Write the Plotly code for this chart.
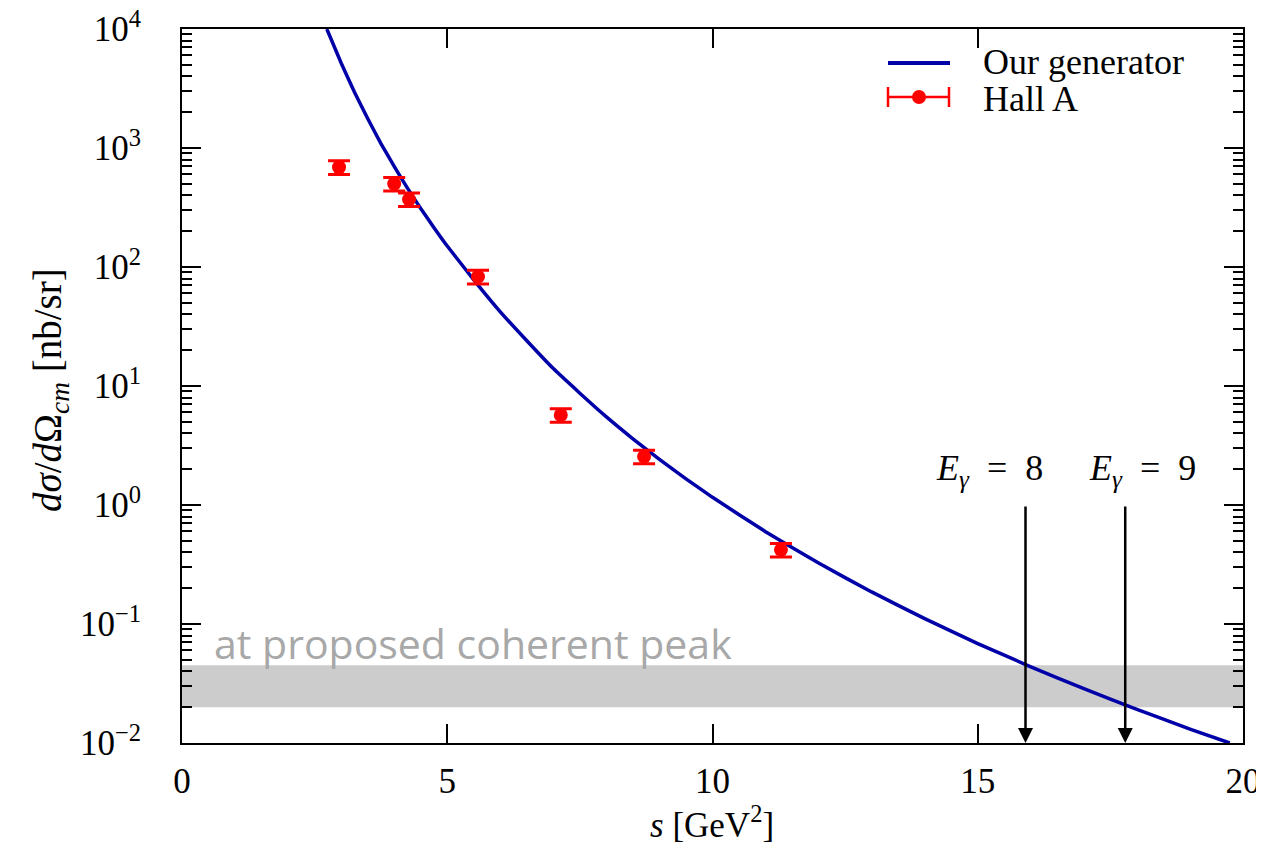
import math
import plotly.graph_objects as go

# ---------------- data ----------------
curve_s = [2.73, 3.0, 3.25, 3.5, 3.75, 4.0, 4.25, 4.5, 4.75, 5.0, 5.25, 5.5, 6.0, 6.5, 7.0, 7.5, 8.0,
           8.5, 9.0, 9.5, 10.0, 11.0, 12.0, 13.0, 14.0, 15.0, 16.0, 17.0, 18.0, 19.0, 19.75]
curve_xs = [10000, 5180, 2960, 1770, 1090, 700, 460, 310, 214, 150, 108, 78, 42, 24, 14.0, 8.7, 5.5,
            3.6, 2.42, 1.66, 1.16, 0.597, 0.325, 0.186, 0.111, 0.0685, 0.0437, 0.0286, 0.0192, 0.0131, 0.0100]

halla_s = [2.96, 4.0, 4.28, 5.58, 7.14, 8.71, 11.29]
halla_xs = [690, 500, 370, 83, 5.7, 2.55, 0.42]
halla_err = [90, 65, 48, 11, 0.75, 0.33, 0.055]

band_low, band_high = 0.02, 0.045
arrow_s = [15.9, 17.78]
arrow_labels = ["<i>E</i><sub><i>γ</i></sub>\u00a0\u00a0=\u00a0\u00a08",
                "<i>E</i><sub><i>γ</i></sub>\u00a0\u00a0=\u00a0\u00a09"]
arrow_label_s = [15.23, 18.10]

y_tickvals = [1e-2, 1e-1, 1, 10, 100, 1000, 10000]
y_ticktext = ["10<sup>−2</sup>", "10<sup>−1</sup>", "10<sup>0</sup>", "10<sup>1</sup>",
              "10<sup>2</sup>", "10<sup>3</sup>", "10<sup>4</sup>"]
x_tickvals = [0, 5, 10, 15, 20]

# ---------------- layout helpers ----------------
OFF = 8  # default page margin of the html body
W, H = 1264 - OFF, 845 - OFF
L, R, T, B = 182 - OFF, 1243 - OFF, 29 - OFF, 743 - OFF
def px(x):  # page pixel -> paper
    return (x - OFF - L) / (R - L)
def py(y):
    return (B - (y - OFF)) / (B - T)

SERIF = "Liberation Serif"
BLUE = "#0000a8"
RED = "#ff0000"

fig = go.Figure()

fig.add_trace(go.Scatter(
    x=curve_s, y=curve_xs, mode="lines", line=dict(color=BLUE, width=3.5, shape="spline", smoothing=0.4),
    name="Our generator", showlegend=False))

fig.add_trace(go.Scatter(
    x=halla_s, y=halla_xs, mode="markers",
    marker=dict(color=RED, size=14, symbol="circle"),
    error_y=dict(type="data", array=halla_err, color=RED, thickness=3, width=11),
    name="Hall A", showlegend=False))

shapes = []
shapes.append(dict(type="rect", xref="paper", yref="y", x0=0, x1=1, y0=band_low, y1=band_high,
                   fillcolor="#cccccc", line=dict(width=0), layer="below"))
# custom legend
shapes.append(dict(type="line", xref="paper", yref="paper", x0=px(888), x1=px(950), y0=py(63), y1=py(63),
                   line=dict(color=BLUE, width=4)))
shapes.append(dict(type="line", xref="paper", yref="paper", x0=px(888), x1=px(949), y0=py(97), y1=py(97),
                   line=dict(color=RED, width=2.5)))
for cx in (888, 949):
    shapes.append(dict(type="line", xref="paper", yref="paper", x0=px(cx), x1=px(cx), y0=py(87), y1=py(107),
                       line=dict(color=RED, width=2.5)))
shapes.append(dict(type="circle", xref="paper", yref="paper", x0=px(912), x1=px(926), y0=py(104), y1=py(90),
                   fillcolor=RED, line=dict(color=RED, width=0)))

annotations = []
annotations.append(dict(xref="paper", yref="paper", x=px(981), y=py(62), xanchor="left", yanchor="middle",
                        text="Our generator", showarrow=False, font=dict(family=SERIF, size=36, color="black")))
annotations.append(dict(xref="paper", yref="paper", x=px(981), y=py(99), xanchor="left", yanchor="middle",
                        text="Hall A", showarrow=False, font=dict(family=SERIF, size=36, color="black")))
annotations.append(dict(xref="paper", yref="paper", x=px(212), y=py(643), xanchor="left", yanchor="middle",
                        text="at proposed coherent peak", showarrow=False,
                        font=dict(family="Open Sans", size=41, color="#a8a8a8")))
for s, lab, ls in zip(arrow_s, arrow_labels, arrow_label_s):
    annotations.append(dict(x=s, y=math.log10(1e-2), ax=s, ay=math.log10(1.0), xref="x", yref="y",
                            axref="x", ayref="y", text="", showarrow=True, arrowhead=2, arrowsize=1.2,
                            arrowwidth=2.5, arrowcolor="black", standoff=0))
    annotations.append(dict(x=ls, y=0.29, xref="x", yref="y", text=lab, showarrow=False,
                            xanchor="center", yanchor="middle",
                            font=dict(family=SERIF, size=36, color="black")))
annotations.append(dict(xref="paper", yref="paper", x=px(712), y=py(822), xanchor="center", yanchor="middle",
                        text="<i>s</i>\u00a0[GeV<sup>2</sup>]", showarrow=False,
                        font=dict(family=SERIF, size=35, color="black")))
annotations.append(dict(xref="paper", yref="paper", x=px(50), y=py(390), xanchor="center", yanchor="middle",
                        textangle=-90,
                        text="<i>dσ</i>/<i>d</i>Ω<sub><i>cm</i></sub>\u00a0[nb/sr]", showarrow=False,
                        font=dict(family=SERIF, size=39, color="black")))

fig.update_layout(
    width=W, height=H,
    margin=dict(l=L, r=W - R, t=T, b=H - B, pad=0, autoexpand=False),
    paper_bgcolor="white", plot_bgcolor="white",
    shapes=shapes, annotations=annotations,
    showlegend=False,
    font=dict(family=SERIF, size=34, color="black"),
)
fig.update_xaxes(range=[0, 20], tickvals=x_tickvals, ticks="inside", ticklen=19, tickwidth=2,
                 tickcolor="black", showline=True, linecolor="black", linewidth=2, mirror="ticks",
                 showgrid=False, zeroline=False, ticklabelstandoff=6, automargin=False,
                 ticklabeloverflow="allow",
                 tickfont=dict(family=SERIF, size=35, color="black"))
fig.update_yaxes(type="log", range=[-2, 4], tickvals=y_tickvals, ticktext=y_ticktext,
                 ticks="inside", ticklen=19, tickwidth=2, tickcolor="black",
                 showline=True, linecolor="black", linewidth=2, mirror="ticks",
                 showgrid=False, zeroline=False, ticklabelstandoff=32, automargin=False,
                 ticklabeloverflow="allow",
                 minor=dict(ticks="inside", ticklen=10, tickwidth=2, tickcolor="black", dtick="D1", showgrid=False),
                 tickfont=dict(family=SERIF, size=35, color="black"))

fig.write_html("out.html")
